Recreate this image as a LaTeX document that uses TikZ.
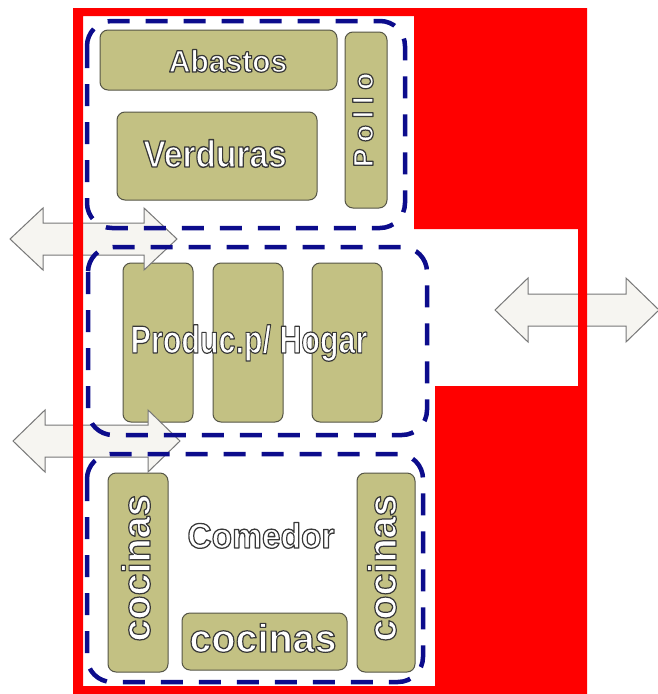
\documentclass[tikz,border=0pt]{standalone}
\usepackage{fontspec}
\setmainfont{Liberation Sans}
\definecolor{olivefill}{RGB}{195,193,131}
\definecolor{boxedge}{RGB}{85,85,70}
\definecolor{zonenavy}{RGB}{12,12,140}
\definecolor{arrowfill}{RGB}{246,245,241}
\definecolor{arrowedge}{RGB}{120,120,120}
\newcommand\lbl[1]{\special{pdf:literal direct 2 Tr 1.2 w 1 j 0.22 0.22 0.22 RG}#1\special{pdf:literal direct 0 Tr}}
\newcommand\DArrow[6]{%
  \draw[arrowsty] (#1,#3) -- (#1+#4,#3-#5) -- (#1+#4,#3-#6) -- (#2-#4,#3-#6)
    -- (#2-#4,#3-#5) -- (#2,#3) -- (#2-#4,#3+#5) -- (#2-#4,#3+#6)
    -- (#1+#4,#3+#6) -- (#1+#4,#3+#5) -- cycle;}
\begin{document}
\begin{tikzpicture}[x=1pt,y=-1pt,
  olivebox/.style={draw=boxedge, fill=olivefill, rounded corners=8pt, line width=1pt},
  zone/.style={draw=zonenavy, dash pattern=on 22pt off 16pt, line width=4.5pt, rounded corners=25pt},
  arrowsty/.style={draw=arrowedge, fill=arrowfill, line width=1pt, line join=miter},
  txt/.style={text=white, inner sep=0pt, anchor=base}]
\useasboundingbox (0,0) rectangle (657,694);
\fill[white] (0,0) rectangle (657,694);

% olive boxes
\draw[olivebox] (100,30) rectangle (337,90);
\draw[olivebox] (345,32) rectangle (387,208);
\draw[olivebox] (117,112) rectangle (317,200);
\draw[olivebox] (123,263) rectangle (193,422);
\draw[olivebox] (213,263) rectangle (283,422);
\draw[olivebox] (312,263) rectangle (382,422);
\draw[olivebox] (108,473) rectangle (168,672);
\draw[olivebox] (357,473) rectangle (415,672);
\draw[olivebox] (182,613) rectangle (347,670);

% arrows
\DArrow{10}{177}{239}{33}{31}{16}
\DArrow{13}{180}{441}{32}{31}{16}
\DArrow{495}{659}{310}{33}{32}{16}

% dashed zones
\draw[zone] (87,21) rectangle (405,228);
\draw[zone] (88,247) rectangle (427,435);
\draw[zone] (87,454) rectangle (423,682);

% red frame
\fill[red, even odd rule] (73,8) rectangle (587,694)
  (83,16) -- (414,16) -- (414,229) -- (578,229) -- (578,386) -- (435,386)
  -- (435,686) -- (83,686) -- cycle;

% labels
\node[txt, font=\fontsize{30pt}{30pt}\selectfont\bfseries] (abastos) at (228,72) {\scalebox{1}[1.03]{\lbl{Abastos}}};
\node[txt, font=\fontsize{33.5pt}{33.5pt}\selectfont\bfseries] (verduras) at (215,167) {\scalebox{1}[1.13]{\lbl{Verduras}}};
\node[txt, rotate=90, font=\fontsize{28pt}{28pt}\selectfont\bfseries] (pollo) at (373,120) {\lbl{P\kern6.5pt o\kern6.5pt l\kern6.5pt l\kern6.5pt o}};
\node[txt, font=\fontsize{39pt}{39pt}\selectfont\bfseries] (hogar) at (249,353) {\scalebox{0.78}[1]{\lbl{Produc.p/ Hogar}}};
\node[txt, font=\fontsize{33.5pt}{33.5pt}\selectfont\bfseries] (comedor) at (261,548) {\scalebox{1}[1.05]{\lbl{Comedor}}};
\node[txt, font=\fontsize{39.5pt}{39.5pt}\selectfont\bfseries] (cocinasB) at (263,652) {\lbl{cocinas}};
\node[txt, rotate=90, font=\fontsize{39.5pt}{39.5pt}\selectfont\bfseries] (cocinasL) at (150,568) {\lbl{cocinas}};
\node[txt, rotate=90, font=\fontsize{39.5pt}{39.5pt}\selectfont\bfseries] (cocinasR) at (396,568) {\lbl{cocinas}};
\end{tikzpicture}
\end{document}
